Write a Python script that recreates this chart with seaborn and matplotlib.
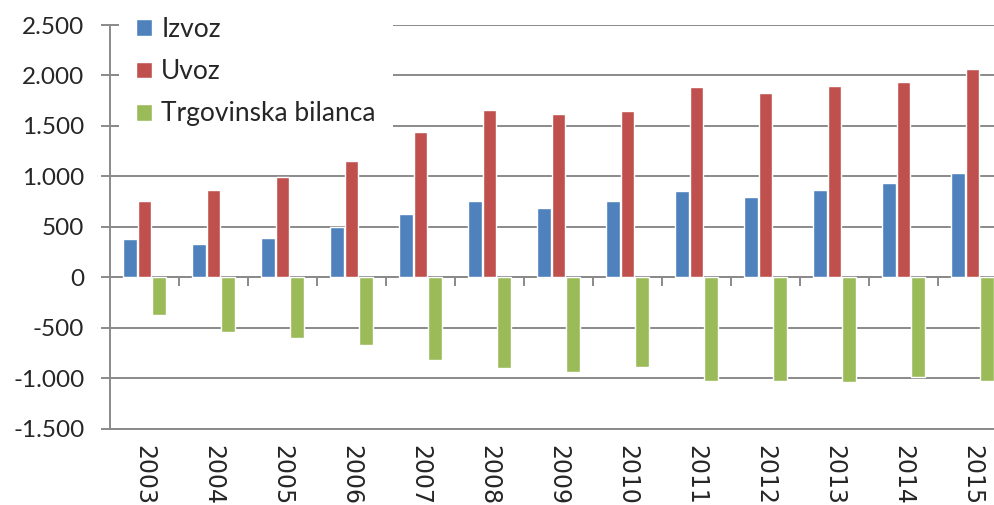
import numpy as np
import pandas as pd
import matplotlib
matplotlib.use("Agg")
import matplotlib.pyplot as plt
import seaborn as sns
from matplotlib.ticker import FuncFormatter, MultipleLocator

years = ["2003", "2004", "2005", "2006", "2007", "2008", "2009",
         "2010", "2011", "2012", "2013", "2014", "2015"]
izvoz = [375, 335, 390, 498, 630, 758, 686, 752, 851, 795, 868, 933, 1032]
uvoz = [752, 864, 992, 1154, 1437, 1658, 1619, 1644, 1885, 1829, 1898, 1938, 2063]
bilanca = [-370, -541, -600, -672, -821, -894, -943, -893, -1025, -1025, -1042, -992, -1025]
series_names = ["Izvoz", "Uvoz", "Trgovinska bilanca"]
colors = ["#4F81BD", "#C0504D", "#9BBB59"]

df = pd.DataFrame({
    "year": years * 3,
    "value": izvoz + uvoz + bilanca,
    "series": [series_names[0]] * len(years) + [series_names[1]] * len(years)
              + [series_names[2]] * len(years),
})

sns.set_theme(style="white")
plt.rcParams["font.family"] = ["Lato", "DejaVu Sans"]

fig = plt.figure(figsize=(9.95, 5.05), dpi=100)
ax = fig.add_axes([110 / 995, 1 - 428.7 / 505, 897 / 995, (428.7 - 25) / 505])

sns.barplot(data=df, x="year", y="value", hue="series", order=years,
            hue_order=series_names, palette=colors, width=0.64, gap=0.08,
            edgecolor="white", linewidth=1.0, saturation=1, ax=ax, zorder=3)

ax.set_xlim(-0.5, len(years) - 0.5)
ax.set_ylim(-1500, 2500)
ax.yaxis.set_major_locator(MultipleLocator(500))
ax.yaxis.set_major_formatter(FuncFormatter(lambda v, p: f"{v:,.0f}".replace(",", ".")))
ax.grid(axis="y", color="#8a8a8a", linewidth=1.4, zorder=0)
ax.set_axisbelow(True)
ax.set_xlabel("")
ax.set_ylabel("")

for s in ["top", "right"]:
    ax.spines[s].set_visible(False)
ax.spines["left"].set_color("#8a8a8a")
ax.spines["left"].set_linewidth(1.4)
ax.spines["bottom"].set_color("#8a8a8a")
ax.spines["bottom"].set_linewidth(1.4)

ax.tick_params(axis="y", direction="inout", length=13, width=1.4, color="#8a8a8a",
               labelsize=17.5, labelcolor="#262626", pad=12, left=True)
ax.tick_params(axis="x", length=0, labelsize=17, labelcolor="#262626", pad=12)
for lbl in ax.get_xticklabels():
    lbl.set_rotation(-90)
    lbl.set_fontfamily("DejaVu Sans")
    lbl.set_va("top")
    lbl.set_ha("center")

# zero category axis with boundary tick marks
ax.axhline(0, color="#8a8a8a", linewidth=1.4, zorder=2)
bounds = np.arange(len(years) + 1) - 0.5
ax.vlines(bounds[1:], -85, 0, color="#8a8a8a", linewidth=1.4, zorder=2)

leg = ax.legend(loc="upper left", bbox_to_anchor=(0.010, 1.062), frameon=True,
                fontsize=19, handlelength=0.6, handleheight=0.6,
                handletextpad=0.35, labelspacing=0.65, borderpad=0.65,
                borderaxespad=0.0, labelcolor="#262626")
leg.get_frame().set_facecolor("white")
leg.get_frame().set_edgecolor("none")
leg.get_frame().set_alpha(1)
leg.set_zorder(5)

fig.savefig("out.png", dpi=100)
